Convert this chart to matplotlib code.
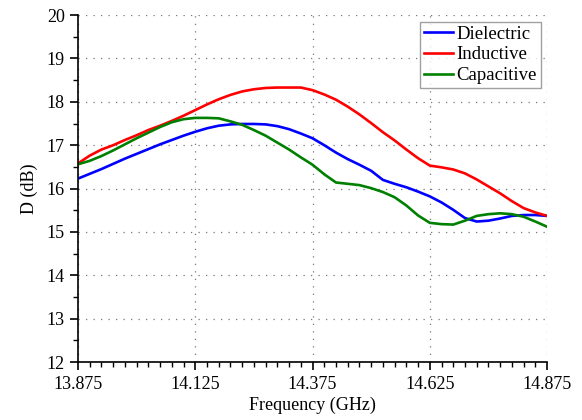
import numpy as np
import matplotlib
matplotlib.use('Agg')
import matplotlib.pyplot as plt
from matplotlib.ticker import MultipleLocator

plt.rcParams['font.family'] = ['Liberation Serif', 'DejaVu Serif']

# Frequency samples (GHz)
freq = np.round(np.arange(0, 41) * 0.025 + 13.875, 3)

dielectric = [16.23, 16.34, 16.45, 16.57, 16.69, 16.80, 16.91, 17.02, 17.12, 17.22,
              17.31, 17.39, 17.45, 17.48, 17.49, 17.49, 17.48, 17.44, 17.37, 17.27,
              17.16, 17.00, 16.83, 16.68, 16.55, 16.41, 16.20, 16.11, 16.03, 15.93,
              15.82, 15.68, 15.51, 15.32, 15.24, 15.26, 15.31, 15.37, 15.39, 15.39,
              15.37]
inductive = [16.58, 16.76, 16.90, 17.00, 17.12, 17.23, 17.35, 17.45, 17.56, 17.68,
             17.81, 17.94, 18.06, 18.16, 18.24, 18.29, 18.32, 18.33, 18.33, 18.33,
             18.27, 18.17, 18.05, 17.89, 17.71, 17.51, 17.30, 17.11, 16.90, 16.70,
             16.53, 16.49, 16.44, 16.35, 16.21, 16.05, 15.89, 15.71, 15.55, 15.45,
             15.37]
capacitive = [16.56, 16.64, 16.75, 16.88, 17.02, 17.16, 17.29, 17.42, 17.53, 17.60,
              17.63, 17.63, 17.62, 17.55, 17.47, 17.35, 17.22, 17.06, 16.90, 16.72,
              16.55, 16.33, 16.14, 16.11, 16.08, 16.01, 15.92, 15.80, 15.61, 15.38,
              15.21, 15.18, 15.17, 15.26, 15.37, 15.41, 15.43, 15.41, 15.35, 15.24,
              15.12]

xticks = [13.875, 14.125, 14.375, 14.625, 14.875]

fig = plt.figure(figsize=(5.82, 4.20), dpi=100)
ax = fig.add_axes([0.134, 0.138, 0.806, 0.826])

ax.plot(freq, dielectric, color='#0000ff', lw=1.9, label='Dielectric')
ax.plot(freq, inductive, color='#ff0000', lw=1.9, label='Inductive')
ax.plot(freq, capacitive, color='#008000', lw=1.9, label='Capacitive')

ax.set_xlim(13.875, 14.875)
ax.set_ylim(12, 20)
ax.set_xticks(xticks)
ax.set_xticklabels([f'{t:.3f}' for t in xticks])
ax.xaxis.set_minor_locator(MultipleLocator(0.025))
ax.yaxis.set_major_locator(MultipleLocator(1))
ax.yaxis.set_minor_locator(MultipleLocator(0.5))

ax.spines['top'].set_visible(False)
ax.spines['right'].set_visible(False)
ax.spines['left'].set_linewidth(1.2)
ax.spines['bottom'].set_linewidth(1.2)
ax.tick_params(which='major', direction='out', length=6, width=1.2, labelsize=13)
ax.tick_params(which='minor', direction='out', length=3.5, width=1.0)
ax.tick_params(axis='x', pad=4)

ax.grid(True, which='major', linestyle=(0, (1, 5)), color='#777777', linewidth=0.9)
ax.set_axisbelow(True)

ax.set_xlabel('Frequency (GHz)', fontsize=13, labelpad=3)
ax.set_ylabel('D (dB)', fontsize=13, labelpad=6)

leg = ax.legend(loc='upper right', fontsize=13.5, frameon=True, fancybox=False,
                edgecolor='#888888', handlelength=1.55, handletextpad=0.2,
                borderpad=0.2, labelspacing=0.2, borderaxespad=0.35)
leg.get_frame().set_linewidth(1.0)

fig.savefig('out.png', dpi=100)
